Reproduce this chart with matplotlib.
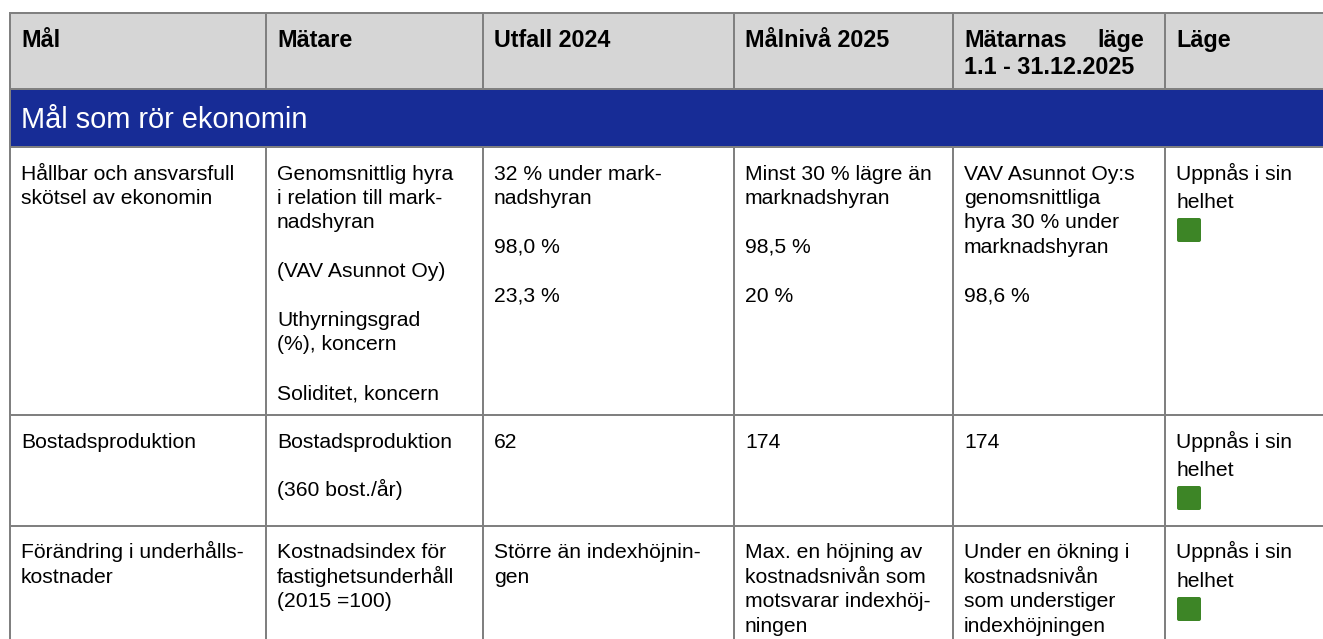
import matplotlib.pyplot as plt
from matplotlib.patches import Rectangle, FancyBboxPatch

plt.rcParams['font.family'] = ['Liberation Sans', 'DejaVu Sans']

# Tabellens innehåll
headers = [["Mål"], ["Mätare"], ["Utfall 2024"], ["Målnivå 2025"],
           ["Mätarnas", "1.1 - 31.12.2025"], ["Läge"]]
section_title = "Mål som rör ekonomin"

mal = [["Hållbar och ansvarsfull", "skötsel av ekonomin"],
       ["Bostadsproduktion"],
       ["Förändring i underhålls-", "kostnader"]]
matare = [["Genomsnittlig hyra", "i relation till mark-", "nadshyran", "",
           "(VAV Asunnot Oy)", "", "Uthyrningsgrad", "(%), koncern", "",
           "Soliditet, koncern"],
          ["Bostadsproduktion", "", "(360 bost./år)"],
          ["Kostnadsindex för", "fastighetsunderhåll", "(2015 =100)"]]
utfall_2024 = [["32 % under mark-", "nadshyran", "", "98,0 %", "", "23,3 %"],
               ["62"],
               ["Större än indexhöjnin-", "gen"]]
malniva_2025 = [["Minst 30 % lägre än", "marknadshyran", "", "98,5 %", "", "20 %"],
                ["174"],
                ["Max. en höjning av", "kostnadsnivån som",
                 "motsvarar indexhöj-", "ningen"]]
matarnas_lage = [["VAV Asunnot Oy:s", "genomsnittliga", "hyra 30 % under",
                  "marknadshyran", "", "98,6 %"],
                 ["174"],
                 ["Under en ökning i", "kostnadsnivån", "som understiger",
                  "indexhöjningen"]]
lage = [["Uppnås i sin", "helhet"],
        ["Uppnås i sin", "helhet"],
        ["Uppnås i sin", "helhet"]]
lage_farg = ["#3d8526", "#3d8526", "#3d8526"]

# Layout i pixlar
W, H = 1323, 639
col_x = [10, 266, 483, 734, 953, 1165, 1330]
top, head_bot, band_bot = 13, 89, 147
row_y = [147, 415, 526, 700]
pad = 11
step = 24.4
line_c = "#808080"
lw = 1.44

fig = plt.figure(figsize=(W / 100, H / 100), dpi=100)
ax = fig.add_axes([0, 0, 1, 1])
ax.set_xlim(0, W)
ax.set_ylim(H, 0)
ax.axis("off")

# bakgrunder
ax.add_patch(Rectangle((col_x[0], top), W - col_x[0], head_bot - top,
                       facecolor="#d6d6d6", edgecolor="none"))
ax.add_patch(Rectangle((col_x[0], head_bot), W - col_x[0], band_bot - head_bot,
                       facecolor="#172c96", edgecolor="none"))

# rubriker
for i, h in enumerate(headers):
    x = col_x[i] + pad
    for j, t in enumerate(h):
        ax.text(x, 47 + j * 26.5, t, fontsize=16.8, fontweight="bold",
                ha="left", va="baseline", color="black")
# "läge" justerad till höger på första raden
ax.text(1144, 47, "läge", fontsize=16.8, fontweight="bold",
        ha="right", va="baseline", color="black")

ax.text(col_x[0] + pad, 128.5, section_title, fontsize=20.9, color="white",
        ha="left", va="baseline")

# celler
columns = [mal, matare, utfall_2024, malniva_2025, matarnas_lage]
for r in range(3):
    base = row_y[r] + 32.5
    for c, col in enumerate(columns):
        for j, t in enumerate(col[r]):
            if t:
                ax.text(col_x[c] + pad, base + j * step, t, fontsize=15.2,
                        ha="left", va="baseline", color="black")
    for j, t in enumerate(lage[r]):
        ax.text(col_x[5] + pad, base + j * 28.5, t, fontsize=15.2,
                ha="left", va="baseline", color="black")
    ax.add_patch(FancyBboxPatch((col_x[5] + 12, row_y[r] + 71), 24, 24,
                                boxstyle="round,pad=0,rounding_size=2",
                                facecolor=lage_farg[r], edgecolor="none"))

# linjer
for y in [top, head_bot, band_bot, row_y[1], row_y[2]]:
    ax.plot([col_x[0], W], [y, y], color=line_c, lw=lw, solid_capstyle="butt")
ax.plot([col_x[0], col_x[0]], [top, H], color=line_c, lw=lw)
for x in col_x[1:6]:
    ax.plot([x, x], [top, head_bot], color=line_c, lw=lw)
    ax.plot([x, x], [band_bot, H], color=line_c, lw=lw)

fig.savefig("out.png", dpi=100)
